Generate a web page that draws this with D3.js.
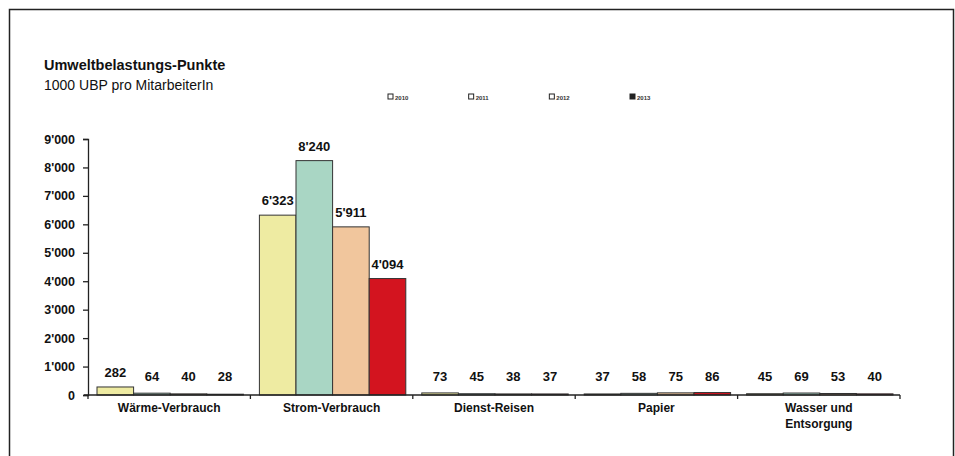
<!DOCTYPE html>
<html>
<head>
<meta charset="utf-8">
<script src="https://cdn.jsdelivr.net/npm/d3@7"></script>
<style>
  body { margin: 0; background: #fff; }
  svg { display: block; font-family: "Liberation Sans", Arial, sans-serif; }
</style>
</head>
<body>
<div id="chart"></div>
<script>
const categories = ["Wärme-Verbrauch", "Strom-Verbrauch", "Dienst-Reisen", "Papier", "Wasser und Entsorgung"];
const years = ["2010", "2011", "2012", "2013"];
const values2010 = [282, 6323, 73, 37, 45];
const values2011 = [64, 8240, 45, 58, 69];
const values2012 = [40, 5911, 38, 75, 53];
const values2013 = [28, 4094, 37, 86, 40];
const yTicks = [0, 1000, 2000, 3000, 4000, 5000, 6000, 7000, 8000, 9000];
const colors = ["#eeeba2", "#a9d6c4", "#f1c69d", "#d3141f"];

const W = 955, H = 456;
const series = [values2010, values2011, values2012, values2013];

const data = categories.map((c, i) => ({
    cat: c,
    vals: years.map((yr, j) => ({ year: yr, value: series[j][i], idx: j }))
}));

const locale = d3.formatLocale({ decimal: ".", thousands: "'", grouping: [3], currency: ["", ""] });
const fmt = locale.format(",d");

const svg = d3.select("#chart").append("svg")
    .attr("width", W)
    .attr("height", H);

// outer frame
svg.append("rect")
    .attr("x", 9.5).attr("y", 9.5)
    .attr("width", 944).attr("height", 460)
    .attr("fill", "none")
    .attr("stroke", "#222")
    .attr("stroke-width", 1.5);

// titles
svg.append("text")
    .attr("x", 44).attr("y", 70)
    .attr("font-size", 14.5).attr("font-weight", "bold")
    .attr("fill", "#111")
    .text("Umweltbelastungs-Punkte");
svg.append("text")
    .attr("x", 44).attr("y", 90)
    .attr("font-size", 14)
    .attr("fill", "#111")
    .text("1000 UBP pro MitarbeiterIn");

// scales
const x0 = d3.scaleBand().domain(categories).range([88, 900]);
const x1 = d3.scaleBand().domain(years).range([9, x0.bandwidth() - 7]);
const y = d3.scaleLinear().domain([0, 9000]).range([395, 139]);

// legend
const legendX = d3.scalePoint().domain(years).range([388, 630]);
const leg = svg.append("g").selectAll("g")
    .data(years)
    .enter().append("g")
    .attr("transform", d => `translate(${legendX(d)}, 97)`);
leg.append("rect")
    .attr("x", 0).attr("y", -3)
    .attr("width", 5).attr("height", 5)
    .attr("fill", (d, i) => i === 3 ? "#222" : "#fff")
    .attr("stroke", "#222");
leg.append("text")
    .attr("x", 7).attr("y", 2.5)
    .attr("font-size", 6).attr("font-weight", "bold")
    .attr("fill", "#333")
    .text(d => d);

// y axis
const yAxis = svg.append("g")
    .attr("transform", "translate(88,0)")
    .call(d3.axisLeft(y).tickValues(yTicks).tickSize(5).tickPadding(8).tickFormat(fmt));
yAxis.selectAll("path, line").attr("stroke", "#222").attr("stroke-width", 1.3);
yAxis.selectAll("text")
    .attr("font-size", 12.5).attr("font-weight", "bold")
    .attr("fill", "#111")
    .attr("font-family", "'Liberation Sans', Arial, sans-serif");

// bars
const groups = svg.append("g").selectAll("g")
    .data(data)
    .enter().append("g")
    .attr("transform", d => `translate(${x0(d.cat)},0)`);

groups.selectAll("rect")
    .data(d => d.vals)
    .enter().append("rect")
    .attr("x", d => x1(d.year))
    .attr("y", d => y(d.value))
    .attr("width", x1.bandwidth())
    .attr("height", d => y(0) - y(d.value))
    .attr("fill", d => colors[d.idx])
    .attr("stroke", "#333")
    .attr("stroke-width", 1);

groups.selectAll("text")
    .data(d => d.vals)
    .enter().append("text")
    .attr("x", d => x1(d.year) + x1.bandwidth() / 2)
    .attr("y", d => Math.min(y(d.value), y(0) - 4) - 10)
    .attr("text-anchor", "middle")
    .attr("font-size", 13).attr("font-weight", "bold")
    .attr("fill", "#111")
    .text(d => fmt(d.value));

// x axis
const xAxis = svg.append("g")
    .attr("transform", "translate(0,395)");
xAxis.append("line")
    .attr("x1", 84).attr("x2", 900)
    .attr("stroke", "#222").attr("stroke-width", 1.5);
xAxis.selectAll(".tick")
    .data(categories.concat([null]))
    .enter().append("line")
    .attr("class", "tick")
    .attr("x1", (d, i) => d ? x0(d) : x0.range()[1])
    .attr("x2", (d, i) => d ? x0(d) : x0.range()[1])
    .attr("y1", 0).attr("y2", 4)
    .attr("stroke", "#222").attr("stroke-width", 1.3);

const catLabels = xAxis.selectAll(".cat")
    .data(categories)
    .enter().append("text")
    .attr("class", "cat")
    .attr("x", d => x0(d) + x0.bandwidth() / 2)
    .attr("y", 17)
    .attr("text-anchor", "middle")
    .attr("font-size", 12).attr("font-weight", "bold")
    .attr("fill", "#111");
catLabels.each(function (d) {
    const parts = d === "Wasser und Entsorgung" ? ["Wasser und", "Entsorgung"] : [d];
    const t = d3.select(this);
    parts.forEach((p, k) => {
        t.append("tspan")
            .attr("x", x0(d) + x0.bandwidth() / 2)
            .attr("dy", k === 0 ? 0 : 16)
            .text(p);
    });
});
</script>
</body>
</html>
